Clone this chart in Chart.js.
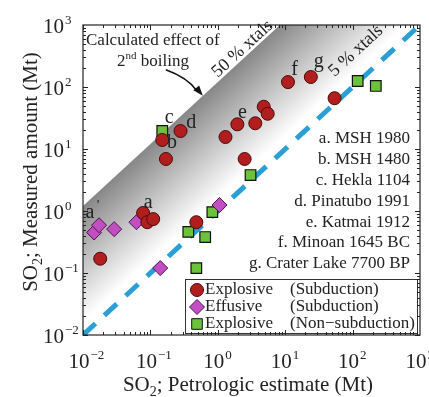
<!DOCTYPE html>
<html lang="en">
	<head>
		<meta charset="UTF-8" />
		<title>SO2: measured vs petrologic estimate</title>
		<script src="https://cdn.jsdelivr.net/npm/chart.js@4"></script>
		<style>
			body { margin: 0; background: #fff; }
			canvas { display: block; }
		</style>
	</head>
	<body>
		<canvas id="myChart" width="429" height="397"></canvas>

		<script>
			// Explosive eruptions, subduction zones (Mt)
			const explosiveX = [0.018, 0.078, 0.09, 0.11, 0.15, 0.17, 0.28, 0.48, 1.3, 1.95, 3.6, 4.8, 5.5, 2.5, 11, 24, 54];
			const explosiveY = [0.17, 0.93, 0.66, 0.74, 14, 6.9, 19.5, 0.66, 15.6, 25, 26, 48, 37, 6.9, 120, 145, 66];
			// Effusive eruptions, subduction zones
			const effusiveX = [0.0146, 0.0173, 0.029, 0.062, 0.14, 1.06];
			const effusiveY = [0.45, 0.59, 0.51, 0.66, 0.12, 1.25];
			// Explosive eruptions, non-subduction
			const nonSubX = [0.15, 0.365, 0.65, 0.83, 0.48, 3.06, 119, 221];
			const nonSubY = [19.5, 0.46, 0.38, 0.96, 0.12, 3.8, 125, 104];

			// letters next to the named eruptions
			const letterText = ["a", 'a', 'b', 'c', 'd', 'e', 'f', 'g'];
			const letterX = [0.0127, 0.093, 0.21, 0.19, 0.405, 2.32, 13.8, 31.4];
			const letterY = [0.93, 1.35, 12.5, 31.6, 26.2, 38, 188, 253];

			const eruptions = ['a. MSH 1980', 'b. MSH 1480', 'c. Hekla 1104', 'd. Pinatubo 1991', 'e. Katmai 1912', 'f. Minoan 1645 BC', 'g. Crater Lake 7700 BP'];
			const legendType = ['Explosive', 'Effusive', 'Explosive'];
			const legendSetting = ['(Subduction)', '(Subduction)', '(Non\u2212subduction)'];

			const tickValues = [0.01, 0.1, 1, 10, 100, 1000];
			const tickPowers = ['\u22122', '\u22121', '0', '1', '2', '3'];

			// 2nd boiling with 50 % crystals: measured = boilFactor * petrologic
			const boilFactor = 120;

			const serif = '"Liberation Serif", "Times New Roman", serif';

			function toPoints(xs, ys) {
				return xs.map(function (x, i) {
					return { x: x, y: ys[i] };
				});
			}

			// grey band that fades from the 50 % line towards the 1:1 line
			function greyFade(context) {
				const chart = context.chart;
				const xs = chart.scales.x;
				const ys = chart.scales.y;
				if (!chart.chartArea || !xs || !ys) return '#aaaaaa';
				const ax = xs.getPixelForValue(0.01), ay = ys.getPixelForValue(0.01 * boilFactor);
				const bx = xs.getPixelForValue(1000 / boilFactor), by = ys.getPixelForValue(1000);
				let dx = bx - ax, dy = by - ay;
				const len = Math.hypot(dx, dy);
				dx /= len; dy /= len;
				const nx = -dy, ny = dx;
				const cx = xs.getPixelForValue(1), cy = ys.getPixelForValue(1);
				const dist = ((cx - ax) * nx + (cy - ay) * ny) * 0.9;
				const g = chart.ctx.createLinearGradient(ax, ay, ax + nx * dist, ay + ny * dist);
				g.addColorStop(0, '#878787');
				g.addColorStop(0.5, '#c4c4c4');
				g.addColorStop(1, '#ffffff');
				return g;
			}

			function drawSup(ctx, base, sup, x, y, size, align) {
				ctx.font = size + 'px ' + serif;
				const wb = ctx.measureText(base).width;
				ctx.font = Math.round(size * 0.62) + 'px ' + serif;
				const ws = ctx.measureText(sup).width;
				let left = x;
				if (align === 'center') left = x - wb / 2;
				ctx.textAlign = 'left';
				ctx.textBaseline = 'alphabetic';
				ctx.font = size + 'px ' + serif;
				ctx.fillText(base, left, y);
				ctx.font = Math.round(size * 0.62) + 'px ' + serif;
				ctx.fillText(sup, left + wb + 1, y - size * 0.45);
				return wb + ws;
			}

			function drawSub(ctx, parts, x, y, size) {
				// parts: [text, 'sub'] pairs, drawn left to right
				let cur = x;
				parts.forEach(function (p) {
					const small = p[1] === 'sub';
					ctx.font = (small ? Math.round(size * 0.65) : size) + 'px ' + serif;
					ctx.fillText(p[0], cur, small ? y + size * 0.22 : y);
					cur += ctx.measureText(p[0]).width;
				});
				return cur - x;
			}

			function partsWidth(ctx, parts, size) {
				let w = 0;
				parts.forEach(function (p) {
					ctx.font = (p[1] === 'sub' ? Math.round(size * 0.65) : size) + 'px ' + serif;
					w += ctx.measureText(p[0]).width;
				});
				return w;
			}

			const decorations = {
				id: 'decorations',
				afterDatasetsDraw(chart) {
					const ctx = chart.ctx;
					const xs = chart.scales.x;
					const ys = chart.scales.y;
					const area = chart.chartArea;
					ctx.save();
					ctx.fillStyle = '#222';

					// eruption letters
					ctx.textAlign = 'center';
					ctx.textBaseline = 'middle';
					ctx.font = '20px ' + serif;
					letterText.forEach(function (t, i) {
						const px = xs.getPixelForValue(letterX[i]);
						const py = ys.getPixelForValue(letterY[i]);
						ctx.fillText(t, px, py);
						if (i === 0) {
							ctx.font = '12px ' + serif;
							ctx.fillText('\u2019', px + 8, py - 8);
							ctx.font = '20px ' + serif;
						}
					});

					// 2nd boiling note
					ctx.textBaseline = 'alphabetic';
					ctx.textAlign = 'left';
					ctx.font = '17px ' + serif;
					ctx.fillText('Calculated effect of', area.left + 3, area.top + 20);
					const w2 = ctx.measureText('2').width;
					ctx.font = '11px ' + serif;
					const wnd = ctx.measureText('nd').width;
					ctx.font = '17px ' + serif;
					const wb = ctx.measureText(' boiling').width;
					const sx = area.left + 70 - (w2 + wnd + wb) / 2;
					const sy = area.top + 41;
					ctx.fillText('2', sx, sy);
					ctx.font = '11px ' + serif;
					ctx.fillText('nd', sx + w2, sy - 7);
					ctx.font = '17px ' + serif;
					ctx.fillText(' boiling', sx + w2 + wnd, sy);

					// arrow to the 50 % line
					const tipX = xs.getPixelForValue(0.6), tipY = ys.getPixelForValue(0.6 * boilFactor);
					const startX = tipX - 37, startY = tipY - 26;
					ctx.strokeStyle = '#111';
					ctx.lineWidth = 1.6;
					ctx.beginPath();
					ctx.moveTo(startX, startY);
					ctx.quadraticCurveTo(startX + 22, startY + 8, tipX - 6, tipY - 5);
					ctx.stroke();
					const ang = Math.atan2(tipY - (startY + 8), tipX - (startX + 22));
					ctx.beginPath();
					ctx.moveTo(tipX, tipY);
					ctx.lineTo(tipX - 11 * Math.cos(ang - 0.35), tipY - 11 * Math.sin(ang - 0.35));
					ctx.lineTo(tipX - 11 * Math.cos(ang + 0.35), tipY - 11 * Math.sin(ang + 0.35));
					ctx.closePath();
					ctx.fillStyle = '#111';
					ctx.fill();

					// rotated crystal-fraction labels
					const slope = Math.atan2(ys.getPixelForValue(1000) - ys.getPixelForValue(0.01), xs.getPixelForValue(1000) - xs.getPixelForValue(0.01));
					ctx.fillStyle = '#222';
					ctx.font = '18px ' + serif;
					ctx.textAlign = 'center';
					ctx.textBaseline = 'alphabetic';
					ctx.save();
					ctx.translate(xs.getPixelForValue(2.6), ys.getPixelForValue(2.6 * boilFactor) - 4);
					ctx.rotate(slope);
					ctx.fillText('50 % xtals', 0, 0);
					ctx.restore();
					ctx.save();
					ctx.textBaseline = 'middle';
					ctx.translate(xs.getPixelForValue(112), ys.getPixelForValue(112 * 3.4));
					ctx.rotate(slope);
					ctx.fillText('5 % xtals', 0, 0);
					ctx.restore();

					// list of named eruptions
					ctx.textAlign = 'right';
					ctx.textBaseline = 'middle';
					ctx.font = '17px ' + serif;
					eruptions.forEach(function (t, i) {
						ctx.fillText(t, area.right - 10, 139 + i * 20.8);
					});

					// legend box
					const lx = 185, ly = 279, lw = area.right - 3 - lx, lh = 54;
					ctx.fillStyle = '#fff';
					ctx.fillRect(lx, ly, lw, lh);
					ctx.strokeStyle = '#333';
					ctx.lineWidth = 1;
					ctx.strokeRect(lx + 0.5, ly + 0.5, lw, lh);
					const sets = [chart.data.datasets[0], chart.data.datasets[1], chart.data.datasets[2]];
					sets.forEach(function (ds, i) {
						const yy = ly + 11 + i * 17;
						ctx.fillStyle = ds.backgroundColor;
						ctx.strokeStyle = ds.borderColor;
						ctx.lineWidth = 1;
						Chart.helpers.drawPoint(ctx, { pointStyle: ds.pointStyle, radius: ds.pointRadius, rotation: 0, borderWidth: 1 }, lx + 12, yy);
						ctx.fillStyle = '#222';
						ctx.textAlign = 'left';
						ctx.font = '17px ' + serif;
						ctx.fillText(legendType[i], lx + 20, yy);
						ctx.fillText(legendSetting[i], lx + 105, yy);
					});
					ctx.restore();
				},
				afterDraw(chart) {
					const ctx = chart.ctx;
					const xs = chart.scales.x;
					const ys = chart.scales.y;
					const a = chart.chartArea;
					ctx.save();
					// frame
					ctx.strokeStyle = '#222';
					ctx.lineWidth = 1.2;
					ctx.strokeRect(a.left, a.top, a.right - a.left, a.bottom - a.top);
					// ticks on all four sides
					ctx.lineWidth = 1;
					ctx.beginPath();
					for (let e = -2; e < 3; e++) {
						for (let m = 1; m < 10; m++) {
							const v = m * Math.pow(10, e);
							const len = m === 1 ? 5 : 3;
							const px = Math.round(xs.getPixelForValue(v)) + 0.5;
							const py = Math.round(ys.getPixelForValue(v)) + 0.5;
							ctx.moveTo(px, a.bottom); ctx.lineTo(px, a.bottom - len);
							ctx.moveTo(px, a.top); ctx.lineTo(px, a.top + len);
							ctx.moveTo(a.left, py); ctx.lineTo(a.left + len, py);
							ctx.moveTo(a.right, py); ctx.lineTo(a.right - len, py);
						}
					}
					ctx.stroke();

					// tick labels 10^n
					ctx.fillStyle = '#222';
					tickValues.forEach(function (v, i) {
						drawSup(ctx, '10', tickPowers[i], xs.getPixelForValue(v) - 4, a.bottom + 33, 21, 'center');
						drawSup(ctx, '10', tickPowers[i], a.left - 40, ys.getPixelForValue(v) + 8, 21, 'left');
					});

					// axis titles
					ctx.textAlign = 'left';
					ctx.textBaseline = 'alphabetic';
					const xt = [['SO', ''], ['2', 'sub'], ['; Petrologic estimate (Mt)', '']];
					const xw = partsWidth(ctx, xt, 21);
					drawSub(ctx, xt, 248 - xw / 2, 391, 21);
					const yt = [['SO', ''], ['2', 'sub'], ['; Measured amount (Mt)', '']];
					const yw = partsWidth(ctx, yt, 21);
					ctx.translate(37, 172);
					ctx.rotate(-Math.PI / 2);
					drawSub(ctx, yt, -yw / 2, 0, 21);
					ctx.restore();
				},
			};

			const config = {
				type: 'scatter',
				data: {
					datasets: [
						{
							label: 'Explosive (Subduction)',
							data: toPoints(explosiveX, explosiveY),
							pointStyle: 'circle',
							pointRadius: 6.5,
							backgroundColor: '#b01e1e',
							borderColor: '#4a0c0c',
							borderWidth: 1,
							order: 1,
						},
						{
							label: 'Effusive (Subduction)',
							data: toPoints(effusiveX, effusiveY),
							pointStyle: 'rectRot',
							pointRadius: 7.5,
							backgroundColor: '#c24fc2',
							borderColor: '#4a164a',
							borderWidth: 1,
							order: 2,
						},
						{
							label: 'Explosive (Non-subduction)',
							data: toPoints(nonSubX, nonSubY),
							pointStyle: 'rect',
							pointRadius: 7.5,
							backgroundColor: '#6cc23a',
							borderColor: '#111',
							borderWidth: 1.2,
							order: 3,
						},
						{
							label: '1:1',
							data: [{ x: 0.01, y: 0.01 }, { x: 1000, y: 1000 }],
							showLine: true,
							pointRadius: 0,
							borderColor: '#2a9fd6',
							borderWidth: 5,
							borderDash: [17, 12],
							fill: false,
							order: 4,
						},
						{
							label: '2nd boiling',
							data: [
								{ x: 0.01, y: 0.01 * boilFactor },
								{ x: 1000 / boilFactor, y: 1000 },
								{ x: 1000, y: 1000 },
							],
							showLine: true,
							pointRadius: 0,
							borderWidth: 0,
							borderColor: 'rgba(0,0,0,0)',
							backgroundColor: greyFade,
							fill: 'start',
							order: 5,
						},
					],
				},
				options: {
					responsive: false,
					animation: false,
					layout: {
						padding: { left: 83, right: 9, top: 25, bottom: 62 },
					},
					plugins: {
						legend: { display: false },
						tooltip: { enabled: false },
					},
					scales: {
						x: {
							type: 'logarithmic',
							min: 0.01,
							max: 1000,
							display: false,
						},
						y: {
							type: 'logarithmic',
							min: 0.01,
							max: 1000,
							display: false,
						},
					},
				},
				plugins: [decorations],
			};

			new Chart(document.getElementById('myChart'), config);
		</script>
	</body>
</html>
